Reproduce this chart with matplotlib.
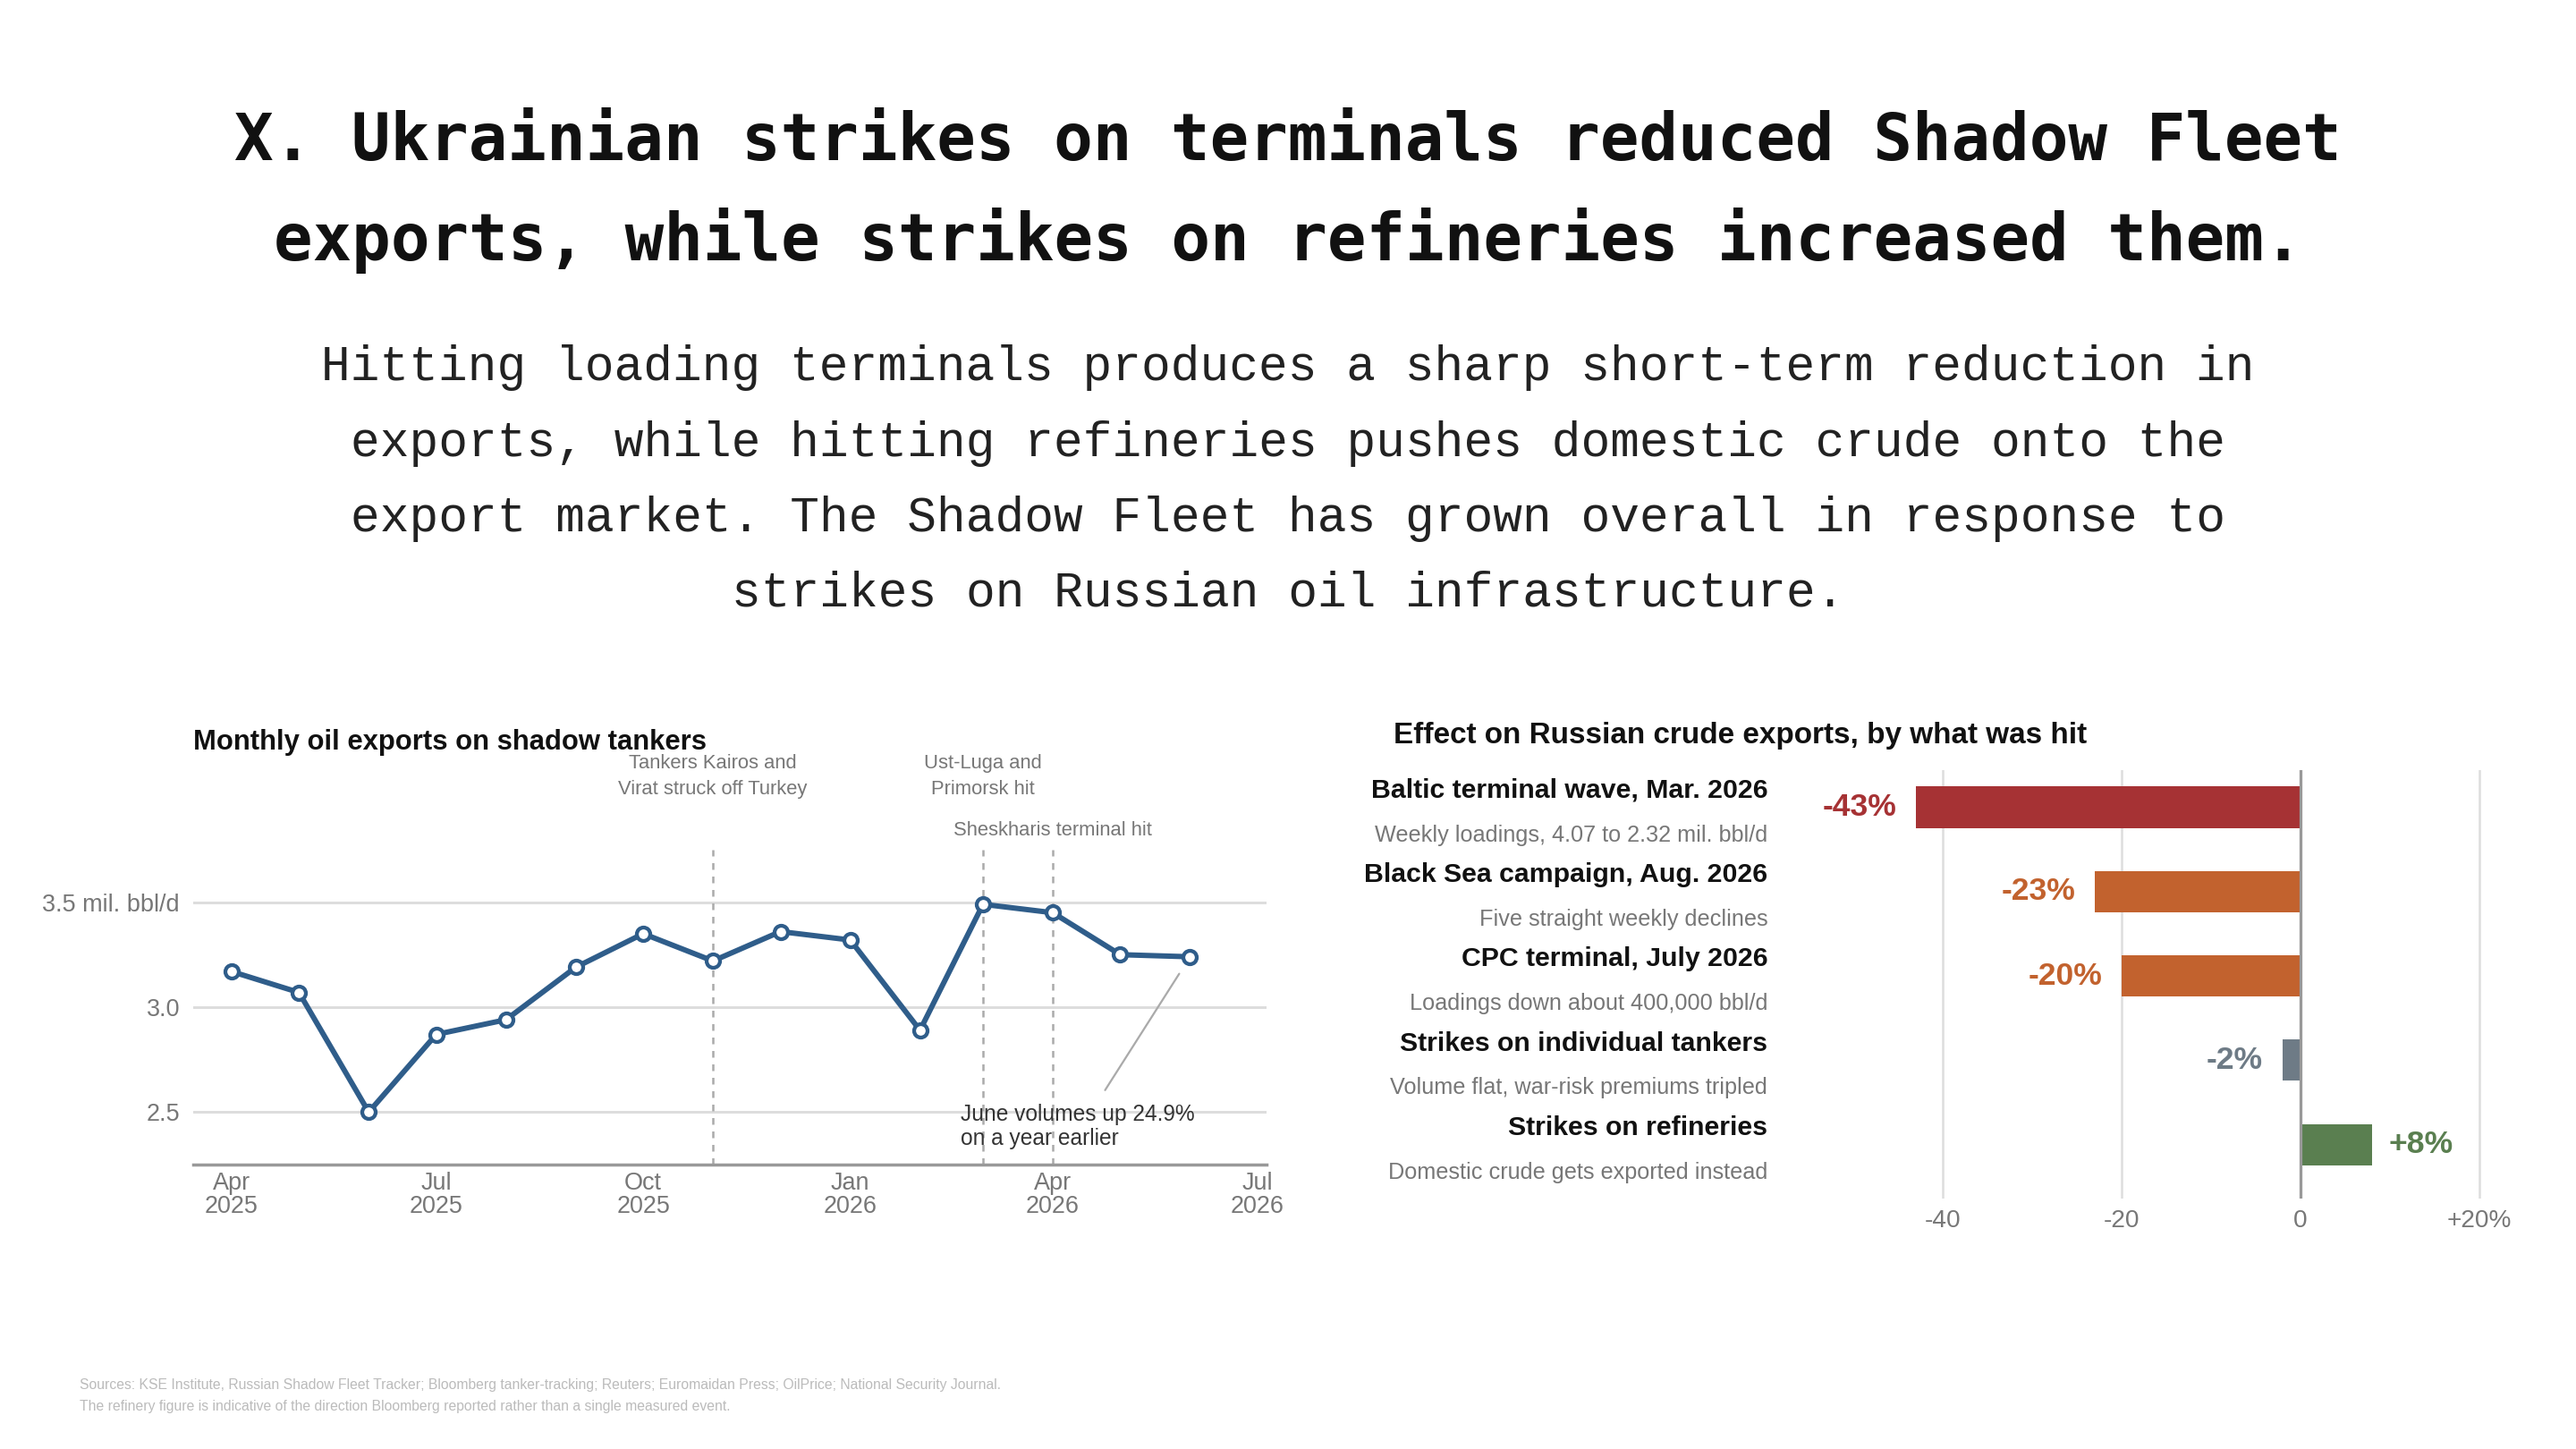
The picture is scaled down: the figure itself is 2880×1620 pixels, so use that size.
import numpy as np
import pandas as pd
import matplotlib
matplotlib.use("Agg")
from matplotlib import pyplot as plt
import matplotlib.transforms as mtrans

# data ---------------------------------------------------------------------
months = pd.date_range("2025-04-01", "2026-06-01", freq="MS")
exports = [3.17, 3.07, 2.50, 2.87, 2.94, 3.19, 3.35, 3.22, 3.36, 3.32, 2.89, 3.49, 3.45, 3.25, 3.24]

events = ["2025-11-01", "2026-03-01", "2026-04-01"]
event_labels = ["Tankers Kairos and\nVirat struck off Turkey", "Ust-Luga and\nPrimorsk hit",
                "Sheskharis terminal hit"]

hit_names = ["Baltic terminal wave, Mar. 2026", "Black Sea campaign, Aug. 2026",
             "CPC terminal, July 2026", "Strikes on individual tankers", "Strikes on refineries"]
hit_notes = ["Weekly loadings, 4.07 to 2.32 mil. bbl/d", "Five straight weekly declines",
             "Loadings down about 400,000 bbl/d", "Volume flat, war-risk premiums tripled",
             "Domestic crude gets exported instead"]
hit_change = [-43, -23, -20, -2, 8]
hit_colors = ["#A63234", "#C2622E", "#C2622E", "#6E7B86", "#5A7F50"]

SANS = "Liberation Sans"
GREY = "#777777"

fig = plt.figure(figsize=(16, 9), dpi=180)
fig.patch.set_facecolor("white")

# headline -----------------------------------------------------------------
title_lines = ["X. Ukrainian strikes on terminals reduced Shadow Fleet",
               "exports, while strikes on refineries increased them."]
for line, yb in zip(title_lines, [179, 291]):
    fig.text(0.5, 1 - yb / 1620, line, ha="center", va="baseline",
             family="DejaVu Sans Mono", weight="bold", fontsize=29, color="#111111")

sub_lines = ["Hitting loading terminals produces a sharp short-term reduction in",
             "exports, while hitting refineries pushes domestic crude onto the",
             "export market. The Shadow Fleet has grown overall in response to",
             "strikes on Russian oil infrastructure."]
for line, yb in zip(sub_lines, [425, 510, 594, 678]):
    fig.text(0.5, 1 - yb / 1620, line, ha="center", va="baseline",
             family="Liberation Mono", fontsize=21.8, color="#222222")

# line chart ---------------------------------------------------------------
ax = fig.add_axes([216 / 2880, 1 - 1302 / 1620, 1200 / 2880, 352 / 1620])
ax.plot(months, exports, color="#2F5D8A", lw=2.4, marker="o", ms=6,
        mfc="white", mec="#2F5D8A", mew=1.7, zorder=3)
ax.set_ylim(2.25, 3.75)
ax.set_xlim(pd.Timestamp("2025-03-15"), pd.Timestamp("2026-07-05"))
ax.set_yticks([2.5, 3.0, 3.5])
ax.set_yticklabels(["2.5", "3.0", "3.5 mil. bbl/d"])
xt = pd.to_datetime(["2025-04-01", "2025-07-01", "2025-10-01", "2026-01-01", "2026-04-01", "2026-07-01"])
ax.set_xticks(xt)
ax.set_xticklabels([d.strftime("%b\n%Y") for d in xt])
ax.grid(axis="y", color="#dddddd", lw=1.2)
ax.set_axisbelow(True)
for s in ["top", "right", "left"]:
    ax.spines[s].set_visible(False)
ax.spines["bottom"].set_color("#999999")
ax.spines["bottom"].set_linewidth(1.4)
ax.tick_params(axis="y", length=0, labelsize=10.8, labelcolor=GREY, pad=6)
ax.tick_params(axis="x", length=0, labelsize=10.8, labelcolor=GREY, pad=3)
for lab in ax.get_xticklabels() + ax.get_yticklabels():
    lab.set_family(SANS)
    lab.set_linespacing(1.05)

trans = mtrans.blended_transform_factory(ax.transData, ax.transAxes)
for ev in events:
    ax.axvline(pd.Timestamp(ev), color="#aaaaaa", lw=1, ls=(0, (3, 3)), zorder=1)
ax.text(pd.Timestamp(events[0]), 1.233, event_labels[0], transform=trans, ha="center", va="center",
        fontsize=8.8, color=GREY, family=SANS, linespacing=1.5)
ax.text(pd.Timestamp(events[1]), 1.233, event_labels[1], transform=trans, ha="center", va="center",
        fontsize=8.8, color=GREY, family=SANS, linespacing=1.5)
ax.text(pd.Timestamp(events[2]), 1.06, event_labels[2], transform=trans, ha="center", va="center",
        fontsize=8.8, color=GREY, family=SANS)

ax.annotate("June volumes up 24.9%\non a year earlier", xy=(months[-1], exports[-1]),
            xytext=(pd.Timestamp("2026-02-19"), 2.43), ha="left", va="center",
            fontsize=9.8, color="#333333", family=SANS, linespacing=1.15,
            arrowprops=dict(arrowstyle="-", color="#aaaaaa", lw=0.9, relpos=(0.58, 1.0),
                            shrinkA=5, shrinkB=9))

fig.text(216 / 2880, 1 - 830 / 1620, "Monthly oil exports on shadow tankers", ha="left", va="center",
         family=SANS, weight="bold", fontsize=12.4, color="#111111")

# bar chart ----------------------------------------------------------------
bx = fig.add_axes([2092 / 2880, 1 - 1340 / 1620, 710 / 2880, 479 / 1620])
ypos = np.arange(len(hit_change))
bx.barh(ypos, hit_change, height=0.49, color=hit_colors, zorder=2)
bx.set_xlim(-48, 23)
bx.set_ylim(4.64, -0.44)
bx.set_xticks([-40, -20, 0, 20])
bx.set_xticklabels(["-40", "-20", "0", "+20%"])
bx.set_yticks([])
bx.grid(axis="x", color="#dddddd", lw=1.0)
bx.axvline(0, color="#999999", lw=1.3, zorder=3)
for s in bx.spines.values():
    s.set_visible(False)
bx.tick_params(length=0, labelsize=11.2, labelcolor=GREY, pad=5)
for lab in bx.get_xticklabels():
    lab.set_family(SANS)

ytrans = bx.get_yaxis_transform()
for i, (name, note, v, c) in enumerate(zip(hit_names, hit_notes, hit_change, hit_colors)):
    bx.text(-0.163, i - 0.2, name, transform=ytrans, ha="right", va="center",
            family=SANS, weight="bold", fontsize=12.1, color="#111111")
    bx.text(-0.163, i + 0.33, note, transform=ytrans, ha="right", va="center",
            family=SANS, fontsize=10.1, color=GREY)
    if v < 0:
        bx.text(v - 2.2, i, f"{v}%", ha="right", va="center", family=SANS,
                weight="bold", fontsize=14.2, color=c)
    else:
        bx.text(v + 1.8, i, f"+{v}%", ha="left", va="center", family=SANS,
                weight="bold", fontsize=14.2, color=c)

fig.text(1558 / 2880, 1 - 822 / 1620, "Effect on Russian crude exports, by what was hit",
         ha="left", va="center", family=SANS, weight="bold", fontsize=13.3, color="#111111")

# footer -------------------------------------------------------------------
fig.text(89 / 2880, 1 - 1548 / 1620,
         "Sources: KSE Institute, Russian Shadow Fleet Tracker; Bloomberg tanker-tracking; Reuters; "
         "Euromaidan Press; OilPrice; National Security Journal.",
         ha="left", va="center", family=SANS, fontsize=6.3, color="#bbbbbb")
fig.text(89 / 2880, 1 - 1572 / 1620,
         "The refinery figure is indicative of the direction Bloomberg reported rather than a single measured event.",
         ha="left", va="center", family=SANS, fontsize=6.3, color="#bbbbbb")

fig.savefig("out.png", dpi=180)
